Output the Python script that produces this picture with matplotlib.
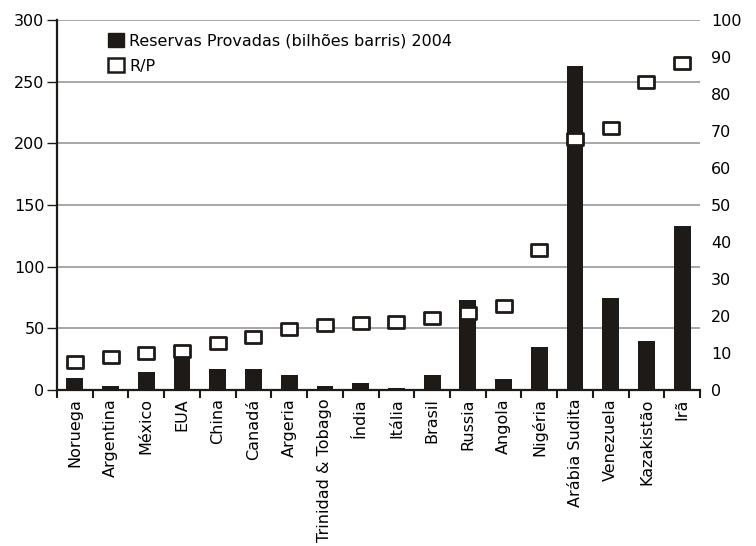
import matplotlib
matplotlib.use("Agg")
import matplotlib.pyplot as plt
from matplotlib.path import Path
from matplotlib.patches import Patch

paises = ["Noruega", "Argentina", "México", "EUA", "China", "Canadá", "Argeria",
          "Trinidad & Tobago", "Índia", "Itália", "Brasil", "Russia", "Angola",
          "Nigéria", "Arábia Sudita", "Venezuela", "Kazakistão", "Irã"]
reservas = [10, 3, 15, 29, 17, 17, 11.8, 3, 5.7, 2, 12, 73, 8.8, 35, 263, 75, 39.6, 133]
rp = [7.6, 8.8, 9.9, 10.6, 12.8, 14.2, 16.4, 17.5, 18.0, 18.3, 19.4, 20.7, 22.8,
      37.9, 67.8, 70.9, 83.3, 88.5]

plt.rcParams["font.family"] = "DejaVu Sans"
plt.rcParams["font.size"] = 11.5

escuro = "#1e1a18"

# retangulo um pouco mais largo que alto para o marcador R/P
ret = Path([(-1.3, -1), (1.3, -1), (1.3, 1), (-1.3, 1), (-1.3, -1)],
           [Path.MOVETO, Path.LINETO, Path.LINETO, Path.LINETO, Path.CLOSEPOLY])

fig = plt.figure(figsize=(7.56, 5.46), dpi=100)
ax = fig.add_axes([0.0754, 0.2857, 0.8506, 0.6777])
x = range(len(paises))

ax.set_axisbelow(True)
ax.yaxis.grid(True, color="#a0a0a0", linewidth=1.3)
ax.bar(x, reservas, width=0.47, color=escuro)
ax.set_xlim(-0.5, len(paises) - 0.5)
ax.set_ylim(0, 300)
ax.set_yticks(range(0, 301, 50))
ax.set_xticks(x)
ax.set_xticklabels(paises, rotation=90)
ax.set_xticks([i - 0.5 for i in range(len(paises) + 1)], minor=True)
ax.tick_params(axis="x", which="major", length=0, pad=6)
ax.tick_params(axis="x", which="minor", length=6, width=1.5, color=escuro)
ax.tick_params(axis="y", length=7, width=1, color=escuro, pad=2)
for s in ["top", "right"]:
    ax.spines[s].set_visible(False)
for s in ["left", "bottom"]:
    ax.spines[s].set_linewidth(1.6)
    ax.spines[s].set_color(escuro)

ax2 = ax.twinx()
ax2.plot(x, rp, linestyle="none", marker=ret, markersize=11,
         markerfacecolor="white", markeredgecolor=escuro, markeredgewidth=2)
ax2.set_ylim(0, 100)
ax2.set_yticks(range(0, 101, 10))
ax2.tick_params(axis="y", length=0, pad=8)
for s in ["top", "right", "left", "bottom"]:
    ax2.spines[s].set_visible(False)

handles = [Patch(facecolor=escuro, edgecolor=escuro, linewidth=1),
           Patch(facecolor="white", edgecolor=escuro, linewidth=1.8)]
ax2.legend(handles=handles,
           labels=["Reservas Provadas (bilhões barris) 2004", "R/P"],
           loc="upper left", bbox_to_anchor=(0.065, 0.99), frameon=False,
           handlelength=0.95, handleheight=0.95, handletextpad=0.35,
           labelspacing=0.6, borderaxespad=0.2)

fig.savefig("out.png", dpi=100)
